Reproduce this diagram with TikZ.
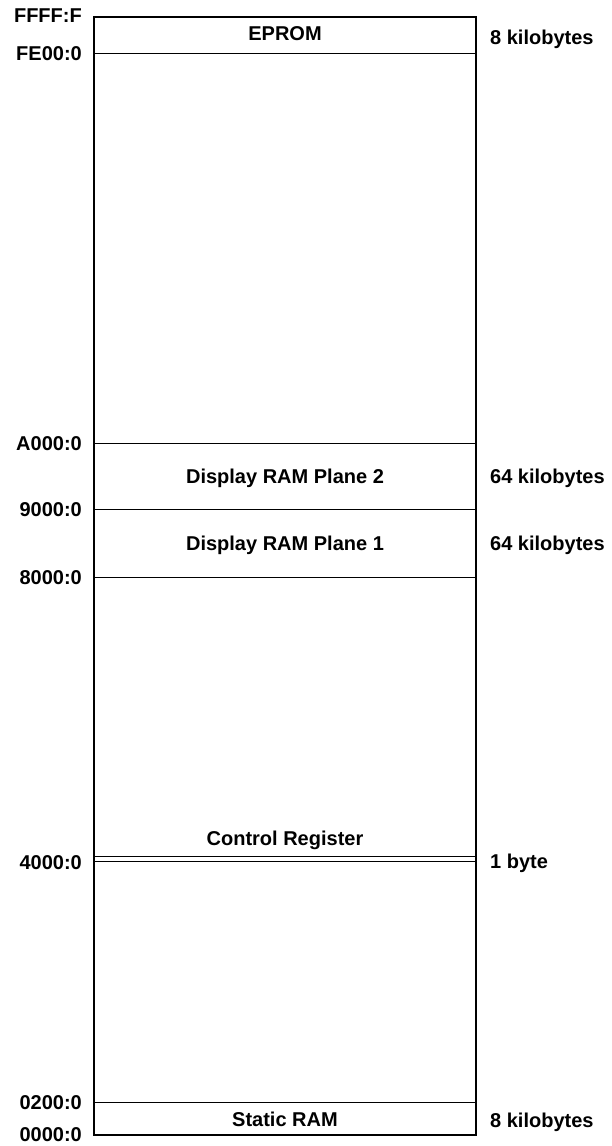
\documentclass[tikz,border=0pt]{standalone}
\usepackage{fontspec}
\setmainfont{Liberation Sans}
\usetikzlibrary{positioning}

\begin{document}
\begin{tikzpicture}[
  x=1pt, y=-1pt,
  every node/.style={font=\fontsize{20}{24}\selectfont\bfseries, inner sep=0pt,
    text height=14.3pt, text depth=0pt},
  addr/.style={anchor=east},
  size/.style={anchor=west},
  divider/.style={line width=0.9pt},
  node distance=12pt,
]
\useasboundingbox (0,0) rectangle (611,1146);

% corners of the map
\coordinate (top) at (94,17);
\coordinate (bot) at (94,1135);
\coordinate (r) at (476,0);

% boundaries on the left edge
\coordinate (fe00) at (94,53);
\coordinate (a000) at (94,443);
\coordinate (9000) at (94,509);
\coordinate (8000) at (94,577);
\coordinate (4000) at (94,856);
\coordinate (4001) at (94,861);
\coordinate (0200) at (94,1102);

\draw[line width=2pt] (top) rectangle (bot -| r);
\foreach \c in {fe00,a000,9000,8000,4000,4001,0200}
  \draw[divider] (\c) -- (\c -| r);

% addresses
\node (lffff) [addr, left=of top, yshift=1.5pt] {FFFF:F};
\node (lfe00) [addr, left=of fe00] {FE00:0};
\node (la000) [addr, left=of a000] {A000:0};
\node (l9000) [addr, left=of 9000] {9000:0};
\node (l8000) [addr, left=of 8000] {8000:0};
\node (l4000) [addr, left=of 4001, yshift=-1pt] {4000:0};
\node (l0200) [addr, left=of 0200] {0200:0};
\node (l0000) [addr, left=of bot, yshift=1pt] {0000:0};

% regions
\node (eprom) at (285,33) {EPROM};
\node (plane2) at (285,476) {Display RAM Plane 2};
\node (plane1) at (285,543) {Display RAM Plane 1};
\node (ctrl) at (285,838) {Control Register};
\node (sram) at (285,1119) {Static RAM};

% sizes
\node (seprom) [size] at (490,37) {8 kilobytes};
\node (splane2) [size] at (490,476) {64 kilobytes};
\node (splane1) [size] at (490,543) {64 kilobytes};
\node (sctrl) [size] at (490,861) {1 byte};
\node (ssram) [size] at (490,1120) {8 kilobytes};

\end{tikzpicture}
\end{document}
